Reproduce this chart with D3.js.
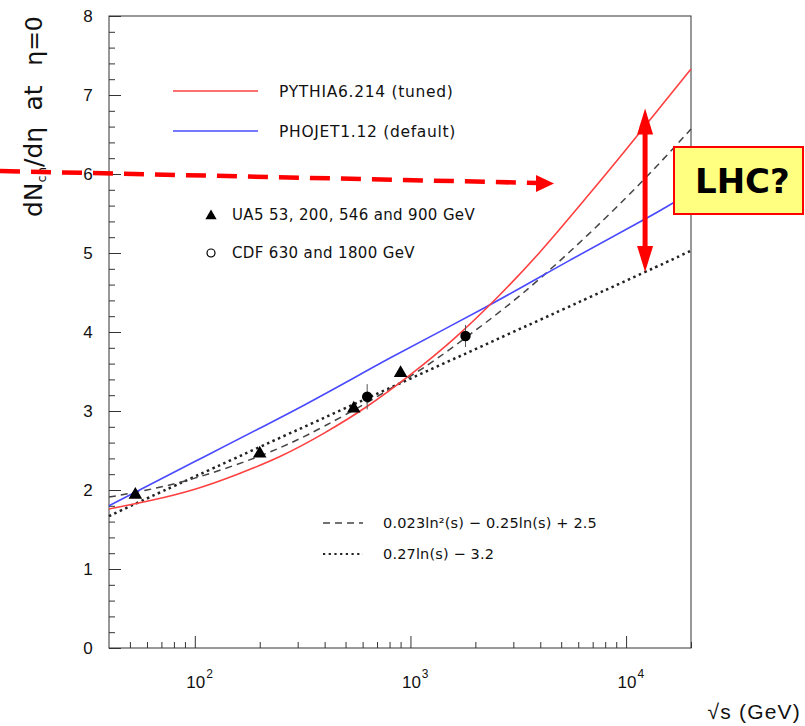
<!DOCTYPE html>
<html><head><meta charset="utf-8">
<script src="https://cdn.jsdelivr.net/npm/d3@7"></script>
<style>body{margin:0;background:#fff}svg{display:block}</style>
</head><body>
<svg id="c" width="805" height="726"></svg>
<script>
// ---------- data ----------
const pythiaE = [40, 63, 100, 158, 251, 398, 631, 1000, 1585, 2512, 3981, 6310, 10000, 20000];
const pythiaN = [1.76, 1.87, 2.01, 2.20, 2.43, 2.72, 3.06, 3.46, 3.91, 4.43, 5.01, 5.65, 6.31, 7.33];
const phojetE = [40, 100, 324, 804, 2218, 5500, 12250, 20000];
const phojetN = [1.80, 2.36, 3.08, 3.67, 4.31, 4.91, 5.43, 5.77];
const fitQuadE = [40, 60, 100, 200, 400, 1000, 2000, 4000, 10000, 20000];
const fitQuadN = [1.91, 2.00, 2.15, 2.43, 2.81, 3.44, 4.02, 4.68, 5.70, 6.57];
const fitLinE = [40, 100, 1000, 10000, 20000];
const fitLinN = [1.67, 2.17, 3.41, 4.65, 5.03];
const ua5E = [53, 200, 546, 900];
const ua5N = [1.94, 2.46, 3.03, 3.48];
const cdfE = [630, 1800];
const cdfN = [3.18, 3.95];
const cdfErr = [0.16, 0.14];
const yMajor = [0, 1, 2, 3, 4, 5, 6, 7, 8];
const xMajorExp = [2, 3, 4];
const legendModels = ["PYTHIA6.214 (tuned)", "PHOJET1.12 (default)"];
const legendData = ["UA5 53, 200, 546 and 900 GeV", "CDF 630 and 1800 GeV"];
const legendFits = ["0.023ln\u00B2(s) \u2212 0.25ln(s) + 2.5", "0.27ln(s) \u2212 3.2"];
const lhcEnergy = 12250;   // position of the double arrow
const lhcRange = [4.76, 6.83];

// ---------- scales ----------
const svg = d3.select("#c");
const x = d3.scaleLog().domain([40, 20000]).range([109, 691]);
const y = d3.scaleLinear().domain([0, 8]).range([648, 16]);
const zip = (a, b) => a.map((v, i) => [v, b[i]]);
const line = d3.line().x(d => x(d[0])).y(d => y(d[1])).curve(d3.curveNatural);
const tickFont = "'Liberation Sans', Arial, sans-serif";
const legFont = "'DejaVu Sans', sans-serif";

// ---------- axes ----------
const yMinor = d3.range(0, 8.001, 0.2).filter(v => Math.abs(v - Math.round(v)) > 1e-6);
const yAx = svg.append("g").attr("transform", "translate(109,0)")
  .call(d3.axisLeft(y).tickValues(yMajor).tickSize(-12).tickPadding(16).tickFormat(d3.format("d")));
svg.append("g").attr("transform", "translate(109,0)")
  .call(d3.axisLeft(y).tickValues(yMinor).tickSize(-6).tickFormat(""));
const xMinor = [];
[10, 100, 1000, 10000].forEach(dec => d3.range(2, 10).forEach(m => {
  const v = dec * m; if (v > 40 && v <= 20000 && ![100, 1000, 10000].includes(v)) xMinor.push(v);
}));
const xMajorVals = xMajorExp.map(e => Math.pow(10, e));
const xAx = svg.append("g").attr("transform", "translate(0,648)")
  .call(d3.axisBottom(x).tickValues(xMajorVals).tickSize(-12).tickFormat(() => ""));
svg.append("g").attr("transform", "translate(0,648)")
  .call(d3.axisBottom(x).tickValues(xMinor).tickSize(-6).tickFormat(""));
svg.selectAll(".domain").remove();
svg.selectAll(".tick line").attr("stroke", "#333");
yAx.selectAll("text").attr("font-family", tickFont).attr("font-size", 17).attr("fill", "#111")
  .attr("text-anchor", "middle").attr("x", -21);
xAx.selectAll(".tick").each(function (d, i) {
  const t = d3.select(this).append("text").attr("fill", "#111").attr("font-family", tickFont)
    .attr("font-size", 17).attr("y", 40).attr("x", 0).attr("text-anchor", "start");
  t.append("tspan").attr("x", -9).text("10");
  t.append("tspan").attr("font-size", 12).attr("dy", -10).attr("dx", 1).text(xMajorExp[i]);
});

// frame
svg.append("rect").attr("x", 109).attr("y", 16).attr("width", 582).attr("height", 632)
  .attr("fill", "none").attr("stroke", "#333").attr("stroke-width", 1);

// axis titles
const ttl = svg.append("g").attr("font-family", legFont).attr("font-size", 25).attr("fill", "#111");
const t1 = ttl.append("text").attr("transform", "translate(42,217) rotate(-90)");
t1.append("tspan").text("dN");
t1.append("tspan").attr("font-size", 13).attr("dy", 4).text("ch");
t1.append("tspan").attr("dy", -4).text("/d\u03B7");
ttl.append("text").attr("transform", "translate(42,98) rotate(-90)").attr("text-anchor", "middle").text("at");
ttl.append("text").attr("transform", "translate(42,41) rotate(-90)").attr("text-anchor", "middle")
  .attr("font-size", 23.5).text("\u03B7=0");
svg.append("text").attr("x", 801).attr("y", 719).attr("text-anchor", "end")
  .attr("font-family", tickFont).attr("font-size", 21).attr("letter-spacing", 1.2).attr("fill", "#111")
  .text("\u221As (GeV)");

// ---------- curves ----------
svg.append("path").attr("d", line(zip(fitLinE, fitLinN))).attr("fill", "none")
  .attr("stroke", "#222").attr("stroke-width", 2.5).attr("stroke-dasharray", "2.5,3.5");
svg.append("path").attr("d", line(zip(fitQuadE, fitQuadN))).attr("fill", "none")
  .attr("stroke", "#444").attr("stroke-width", 1.5).attr("stroke-dasharray", "7,5");
svg.append("path").attr("d", line(zip(phojetE, phojetN))).attr("fill", "none")
  .attr("stroke", "#4a4aff").attr("stroke-width", 1.6);
svg.append("path").attr("d", line(zip(pythiaE, pythiaN))).attr("fill", "none")
  .attr("stroke", "#ff4040").attr("stroke-width", 1.6);

// ---------- data points ----------
const tri = d3.symbol().type(d3.symbolTriangle).size(80);
svg.selectAll(".ua5").data(zip(ua5E, ua5N)).join("path").attr("class", "ua5")
  .attr("d", tri).attr("transform", d => `translate(${x(d[0])},${y(d[1])})`).attr("fill", "#000");
svg.selectAll(".cdfe").data(cdfE).join("line").attr("class", "cdfe")
  .attr("x1", d => x(d)).attr("x2", d => x(d))
  .attr("y1", (d, i) => y(cdfN[i] + cdfErr[i])).attr("y2", (d, i) => y(cdfN[i] - cdfErr[i]))
  .attr("stroke", "#555").attr("stroke-width", 1);
svg.selectAll(".cdf").data(cdfE).join("circle").attr("class", "cdf")
  .attr("cx", d => x(d)).attr("cy", (d, i) => y(cdfN[i])).attr("r", 5.2).attr("fill", "#000");

// ---------- legends ----------
const lg = svg.append("g").attr("font-family", legFont).attr("fill", "#111");
[["#ff4040", 91], ["#4a4aff", 131]].forEach((c, i) => {
  lg.append("line").attr("x1", 173).attr("x2", 258).attr("y1", c[1]).attr("y2", c[1])
    .attr("stroke", c[0]).attr("stroke-width", 1.6);
  lg.append("text").attr("x", 279).attr("y", c[1] + 5.5).attr("font-size", 15.5)
    .attr("letter-spacing", 0.7).text(legendModels[i]);
});
lg.append("path").attr("d", d3.symbol().type(d3.symbolTriangle).size(55))
  .attr("transform", "translate(211,216)").attr("fill", "#000");
lg.append("text").attr("x", 232).attr("y", 220).attr("font-size", 15).attr("letter-spacing", 0.35).text(legendData[0]);
lg.append("circle").attr("cx", 211).attr("cy", 253).attr("r", 4).attr("fill", "none")
  .attr("stroke", "#000").attr("stroke-width", 1.2);
lg.append("text").attr("x", 232).attr("y", 258).attr("font-size", 15).attr("letter-spacing", 0.35).text(legendData[1]);
lg.append("line").attr("x1", 323).attr("x2", 363).attr("y1", 523).attr("y2", 523)
  .attr("stroke", "#444").attr("stroke-width", 1.5).attr("stroke-dasharray", "7,5");
lg.append("text").attr("x", 383).attr("y", 528).attr("font-size", 14.5).attr("letter-spacing", 0.15).text(legendFits[0]);
lg.append("line").attr("x1", 323).attr("x2", 363).attr("y1", 554).attr("y2", 554)
  .attr("stroke", "#222").attr("stroke-width", 2.2).attr("stroke-dasharray", "2.2,3.5");
lg.append("text").attr("x", 383).attr("y", 559).attr("font-size", 14.5).attr("letter-spacing", 0.15).text(legendFits[1]);

// ---------- annotations ----------
svg.append("line").attr("x1", 0).attr("y1", 171).attr("x2", 538).attr("y2", 183)
  .attr("stroke", "#ff0000").attr("stroke-width", 4.5).attr("stroke-dasharray", "20,11");
svg.append("path").attr("d", "M536,175 L554,183.5 L536,192 Z").attr("fill", "#ff0000");

const ax = x(lhcEnergy), yTop = y(lhcRange[1]), yBot = y(lhcRange[0]);
svg.append("line").attr("x1", ax).attr("x2", ax).attr("y1", yTop + 20).attr("y2", yBot - 20)
  .attr("stroke", "#ff0000").attr("stroke-width", 5);
svg.append("path").attr("d", `M${ax},${yTop} L${ax + 8},${yTop + 26} L${ax - 8},${yTop + 26} Z`).attr("fill", "#ff0000");
svg.append("path").attr("d", `M${ax},${yBot} L${ax + 8},${yBot - 26} L${ax - 8},${yBot - 26} Z`).attr("fill", "#ff0000");

svg.append("rect").attr("x", 674).attr("y", 147).attr("width", 129).attr("height", 67)
  .attr("fill", "#ffff80").attr("stroke", "#ff0000").attr("stroke-width", 2);
svg.append("text").attr("x", 695).attr("y", 193).attr("font-family", legFont)
  .attr("font-weight", "bold").attr("font-size", 34).attr("fill", "#000").text("LHC?");
</script>
</body></html>
